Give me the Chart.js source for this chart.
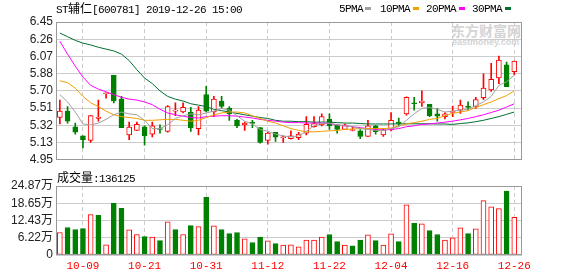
<!DOCTYPE html>
<html>
<head>
<meta charset="utf-8">
<script src="https://cdn.jsdelivr.net/npm/chart.js@4.4.1/dist/chart.umd.min.js"></script>
<style>
  body { margin: 0; background: #fff; }
  #wrap { position: relative; width: 578px; height: 276px; overflow: hidden; background: #fff; }
  canvas { position: absolute; left: 0; }
  .t { position: absolute; white-space: nowrap; font-family: "Liberation Mono", monospace; font-size: 11px; letter-spacing: -0.6px; line-height: 12px; color: #000; }
  .cn { font-family: "Noto Sans CJK SC", sans-serif; font-size: 12px; letter-spacing: 0; }
  .box { position: absolute; width: 6px; height: 3px; }
  .wm { position: absolute; color: #d4d4d4; font-weight: bold; white-space: nowrap; }
</style>
</head>
<body>
<div id="wrap">
  <div class="wm" style="left:451px;top:22px;font-family:'Noto Sans CJK SC';font-size:14px;line-height:16px;">东方财富网</div>
  <div class="wm" style="left:452px;top:38px;font-family:'Liberation Sans';font-size:9px;line-height:9px;">eastmoney.com</div>

  <canvas id="kline" width="578" height="170" style="top:0"></canvas>
  <canvas id="vol" width="578" height="106" style="top:170px"></canvas>

  <div class="t" style="left:56px;top:2px;">ST<span class="cn">辅仁</span>[600781] 2019-12-26 15:00</div>

  <div class="t" style="left:339px;top:3px;">5PMA</div><div class="box" style="left:365px;top:7px;background:#a0a0a0"></div>
  <div class="t" style="left:380px;top:3px;">10PMA</div><div class="box" style="left:413px;top:7px;background:#f0a000"></div>
  <div class="t" style="left:426px;top:3px;">20PMA</div><div class="box" style="left:459px;top:7px;background:#ff00ff"></div>
  <div class="t" style="left:472px;top:3px;">30PMA</div><div class="box" style="left:505px;top:7px;background:#006f2f"></div>

  <div class="t" style="left:57px;top:171px;"><span class="cn">成交量</span>:136125</div>
</div>

<script>
// trading days shown
const dates = ['09-27','09-30','10-08','10-09','10-10','10-11','10-14','10-15','10-16','10-17',
  '10-18','10-21','10-22','10-23','10-24','10-25','10-28','10-29','10-30','10-31',
  '11-01','11-04','11-05','11-06','11-07','11-08','11-11','11-12','11-13','11-14',
  '11-15','11-18','11-19','11-20','11-21','11-22','11-25','11-26','11-27','11-28',
  '11-29','12-02','12-03','12-04','12-05','12-06','12-09','12-10','12-11','12-12',
  '12-13','12-16','12-17','12-18','12-19','12-20','12-23','12-24','12-25','12-26'];

const open = [5.41,5.48,5.31,5.21,5.16,5.40,5.67,5.87,5.61,5.22,
  5.27,5.31,5.23,5.29,5.26,5.48,5.47,5.47,5.29,5.66,
  5.47,5.59,5.51,5.38,5.33,5.36,5.30,5.16,5.25,5.19,
  5.18,5.19,5.24,5.31,5.33,5.39,5.33,5.28,5.27,5.265,
  5.205,5.32,5.22,5.275,5.36,5.45,5.57,5.57,5.555,5.45,
  5.42,5.465,5.49,5.535,5.525,5.625,5.71,5.84,5.985,5.91];
const high = [5.60,5.53,5.35,5.21,5.43,5.60,5.68,5.87,5.64,5.36,
  5.36,5.32,5.36,5.33,5.54,5.57,5.57,5.52,5.53,5.75,
  5.64,5.64,5.53,5.39,5.36,5.38,5.30,5.25,5.25,5.21,
  5.265,5.25,5.42,5.42,5.45,5.45,5.335,5.34,5.31,5.28,
  5.38,5.325,5.29,5.465,5.405,5.635,5.63,5.70,5.555,5.51,
  5.465,5.535,5.60,5.58,5.63,5.885,6.00,6.08,6.015,6.025];
const low = [5.34,5.35,5.23,5.08,5.14,5.37,5.62,5.57,5.30,5.17,
  5.27,5.11,5.20,5.24,5.25,5.43,5.46,5.26,5.22,5.47,
  5.42,5.51,5.38,5.30,5.27,5.30,5.13,5.12,5.15,5.14,
  5.175,5.17,5.22,5.305,5.32,5.28,5.24,5.28,5.265,5.18,
  5.205,5.23,5.205,5.265,5.315,5.435,5.49,5.53,5.42,5.37,
  5.395,5.42,5.455,5.49,5.51,5.605,5.695,5.78,5.745,5.875];
const close = [5.48,5.37,5.25,5.17,5.43,5.415,5.68,5.59,5.30,5.305,
  5.335,5.21,5.32,5.28,5.53,5.49,5.52,5.30,5.49,5.48,
  5.61,5.53,5.45,5.32,5.35,5.345,5.14,5.24,5.195,5.20,
  5.21,5.23,5.335,5.345,5.42,5.32,5.28,5.33,5.28,5.205,
  5.32,5.255,5.275,5.38,5.345,5.63,5.56,5.59,5.43,5.425,
  5.45,5.48,5.545,5.52,5.605,5.73,5.825,6.035,5.745,6.025];

// volume in shares
const volume = [81000,99000,92000,95000,146000,143000,37000,186000,168000,91000,
  74000,66000,65000,52000,120000,92000,74000,106000,102000,208000,
  105000,92000,77000,81000,58000,45000,65000,51000,41000,36000,
  37000,29000,54000,54000,65000,74000,48000,36000,33000,54000,
  73000,52000,36000,76000,48000,181000,114000,112000,88000,74000,
  54000,62000,98000,77000,94000,196000,174000,167000,230000,136125];

// moving averages as drawn
const ma5 = [5.66,5.58,5.47,5.34,5.33,5.35,5.39,5.44,5.47,5.45,
  5.44,5.38,5.29,5.29,5.33,5.40,5.43,5.45,5.44,5.46,
  5.48,5.51,5.49,5.43,5.37,5.34,5.28,5.26,5.23,5.21,
  5.20,5.21,5.26,5.32,5.35,5.35,5.33,5.32,5.31,5.29,
  5.28,5.27,5.27,5.29,5.31,5.38,5.45,5.51,5.52,5.50,
  5.47,5.48,5.49,5.50,5.54,5.58,5.64,5.76,5.80,5.87];
const ma10 = [5.81,5.79,5.73,5.64,5.57,5.53,5.48,5.44,5.42,5.41,
  5.40,5.38,5.38,5.385,5.39,5.39,5.38,5.37,5.38,5.41,
  5.44,5.46,5.47,5.47,5.46,5.43,5.40,5.37,5.35,5.32,
  5.29,5.27,5.255,5.255,5.26,5.265,5.27,5.28,5.285,5.29,
  5.29,5.29,5.29,5.295,5.32,5.34,5.355,5.37,5.39,5.40,
  5.43,5.455,5.47,5.485,5.52,5.55,5.58,5.615,5.65,5.70];
const ma20 = [6.24,6.10,5.97,5.85,5.76,5.72,5.69,5.66,5.63,5.61,
  5.60,5.58,5.55,5.50,5.46,5.44,5.425,5.41,5.405,5.42,
  5.425,5.43,5.43,5.425,5.415,5.405,5.39,5.38,5.37,5.36,
  5.355,5.355,5.35,5.35,5.35,5.345,5.33,5.32,5.31,5.30,
  5.29,5.28,5.275,5.28,5.29,5.31,5.32,5.335,5.34,5.35,
  5.36,5.37,5.385,5.40,5.42,5.44,5.465,5.49,5.525,5.56];
const ma30 = [6.33,6.29,6.25,6.22,6.20,6.175,6.155,6.135,6.10,6.03,
  5.93,5.84,5.78,5.70,5.64,5.61,5.59,5.56,5.545,5.53,
  5.50,5.485,5.47,5.455,5.44,5.425,5.41,5.40,5.38,5.37,
  5.37,5.365,5.365,5.36,5.36,5.36,5.355,5.35,5.35,5.345,
  5.34,5.34,5.34,5.34,5.342,5.342,5.342,5.342,5.342,5.34,
  5.34,5.335,5.345,5.352,5.365,5.38,5.40,5.42,5.445,5.47];

const priceTickLabels = ['4.95','5.13','5.32','5.51','5.70','5.88','6.07','6.26','6.45'];
const volTickLabels = ['0','6.22万','12.43万','18.65万','24.87万'];
const dateTickIdx = [3, 11, 19, 27, 35, 43, 51, 59];

const priceMin = 4.95, priceMax = 6.45, volMax = 248700;
const RED = '#ff0000', GREEN = '#008000', GRID = '#cccccc';

const rise = close.map((c, i) => c >= open[i]);
const volRise = close.map((c, i) => i === 0 ? c >= open[i] : c >= close[i - 1]);
const pts = arr => arr.map((v, i) => ({ x: i, y: v }));

// draws the grey box round the plot area
const frame = {
  id: 'frame',
  afterDraw(chart) {
    const { ctx, chartArea: a } = chart;
    ctx.save();
    ctx.strokeStyle = '#999';
    ctx.lineWidth = 1;
    ctx.strokeRect(Math.round(a.left) + 0.5, Math.round(a.top) + 0.5,
      Math.round(a.right - a.left) - 1, Math.round(a.bottom - a.top) - 1);
    ctx.restore();
  }
};

const xScale = (showLabels) => ({
  type: 'linear',
  min: -0.5,
  max: 60,
  offset: false,
  afterBuildTicks: s => { s.ticks = dateTickIdx.map(v => ({ value: v })); },
  afterFit: s => { s.height = showLabels ? 21 : 0; },
  ticks: {
    display: showLabels,
    autoSkip: false,
    maxRotation: 0,
    padding: 4,
    color: RED,
    font: { family: '"Liberation Mono", monospace', size: 11 },
    callback: v => dates[v]
  },
  grid: { color: GRID, drawTicks: false, offset: false },
  border: { display: false, dash: [4, 3] }
});

const tickFont = { family: '"Liberation Sans", "Noto Sans CJK SC", sans-serif', size: 12 };

const lineDs = (label, data, color) => ({
  type: 'line', label, data: pts(data), borderColor: color, borderWidth: 1,
  pointRadius: 0, tension: 0, order: 0
});

new Chart(document.getElementById('kline'), {
  data: {
    datasets: [
      lineDs('MA5', ma5, '#a0a0a0'),
      lineDs('MA10', ma10, '#f0a000'),
      lineDs('MA20', ma20, '#ff00ff'),
      lineDs('MA30', ma30, '#006f2f'),
      {
        type: 'bar', label: 'body',
        data: open.map((o, i) => ({ x: i, y: [o, close[i]] })),
        backgroundColor: rise.map(r => r ? '#ffffff' : GREEN),
        borderColor: rise.map(r => r ? RED : GREEN),
        borderWidth: 1, borderSkipped: false, barThickness: 5, grouped: false, order: 1
      },
      {
        type: 'bar', label: 'wick',
        data: low.map((l, i) => ({ x: i, y: [l, high[i]] })),
        backgroundColor: rise.map(r => r ? RED : GREEN),
        borderWidth: 0, barThickness: 1, grouped: false, order: 2
      }
    ]
  },
  options: {
    responsive: false,
    animation: false,
    devicePixelRatio: 1,
    layout: { padding: { top: 22, right: 56, bottom: 5, left: 0 } },
    plugins: { legend: { display: false }, tooltip: { enabled: false } },
    scales: {
      x: xScale(false),
      y: {
        min: priceMin, max: priceMax, beginAtZero: false,
        afterBuildTicks: s => {
          s.ticks = priceTickLabels.map((_, k) => ({ value: priceMin + k * (priceMax - priceMin) / 8 }));
        },
        afterFit: s => { s.width = 56; },
        ticks: { autoSkip: false, padding: 3, color: '#222', font: tickFont,
          callback: (v, i) => priceTickLabels[i] },
        grid: { color: GRID, drawTicks: false },
        border: { display: false }
      }
    }
  },
  plugins: [frame]
});

new Chart(document.getElementById('vol'), {
  data: {
    datasets: [{
      type: 'bar', label: 'volume',
      data: volume.map((v, i) => ({ x: i, y: v })),
      backgroundColor: volRise.map(r => r ? '#ffffff' : GREEN),
      borderColor: volRise.map(r => r ? RED : GREEN),
      borderWidth: 1, borderSkipped: false, barThickness: 5, grouped: false
    }]
  },
  options: {
    responsive: false,
    animation: false,
    devicePixelRatio: 1,
    layout: { padding: { top: 16, right: 56, bottom: 0, left: 0 } },
    plugins: { legend: { display: false }, tooltip: { enabled: false } },
    scales: {
      x: xScale(true),
      y: {
        min: 0, max: volMax,
        afterBuildTicks: s => { s.ticks = volTickLabels.map((_, k) => ({ value: k * volMax / 4 })); },
        afterFit: s => { s.width = 56; },
        ticks: { autoSkip: false, padding: 3, color: '#222', font: tickFont,
          callback: (v, i) => volTickLabels[i] },
        grid: { color: GRID, drawTicks: false },
        border: { display: false }
      }
    }
  },
  plugins: [frame]
});
</script>
</body>
</html>
